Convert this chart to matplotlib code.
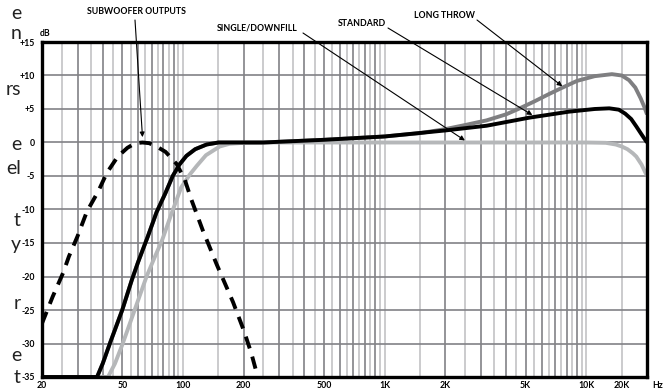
import numpy as np
import matplotlib
matplotlib.use("Agg")
import matplotlib.pyplot as plt
from matplotlib.transforms import blended_transform_factory
from matplotlib.ticker import NullLocator

# Frequency response curves (Hz, dB)
sub_freq = [20, 22.6, 25.5, 27.2, 30, 33.4, 38, 42, 47.5, 53, 58, 63, 68, 74, 82, 93, 102, 110,
            125, 147, 177, 200, 218, 235]
sub_db = [-27, -23, -19.4, -17, -14, -10.3, -7.3, -4.5, -2.1, -0.8, -0.1, 0, -0.1, -0.6, -1.4,
          -3.2, -5.5, -8.5, -13, -18.2, -23.8, -28, -31.4, -35]

std_freq = [20, 37.5, 40, 43.4, 50, 55.8, 60, 67, 74, 82, 89, 96, 104, 115, 131, 150, 180, 250,
            500, 1000, 2000, 3200, 5200, 8200, 11000, 13000, 14500, 15600, 16700, 17700, 18800, 20000]
std_db = [-35, -35, -33, -30, -25, -20.5, -17.8, -14, -10.4, -7.5, -5, -3.3, -2, -1, -0.3, 0, 0, 0,
          0.4, 0.9, 1.8, 2.5, 3.7, 4.6, 5.0, 5.1, 4.9, 4.3, 3.5, 2.4, 1.2, 0]

long_freq = [20, 37.5, 40, 43.4, 50, 55.8, 60, 67, 74, 82, 89, 96, 104, 115, 131, 150, 180, 250,
             500, 1000, 1500, 2000, 2500, 3200, 4000, 4600, 5500, 6500, 7500, 9000, 11000, 13400,
             15000, 16300, 17500, 18600, 19400, 20000]
long_db = [-35, -35, -33, -30, -25, -20.5, -17.8, -14, -10.4, -7.5, -5, -3.3, -2, -1, -0.3, 0, 0, 0,
           0.4, 0.9, 1.4, 2.0, 2.6, 3.3, 4.2, 5.0, 6.1, 7.2, 8.1, 9.2, 9.9, 10.2,
           10.0, 9.3, 8.2, 6.6, 5.3, 4.2]

single_freq = [20, 42.5, 46, 50, 57.6, 66, 72, 79, 88, 98, 108, 117, 130, 152, 170, 200, 240,
               1000, 10000, 12500, 14000, 15000, 16000, 17000, 17700, 18800, 20000]
single_db = [-35, -35, -33, -30.2, -25, -20, -17.3, -14.5, -10.5, -6.7, -4.8, -3.5, -1.9, -0.6,
             -0.2, -0.05, 0, 0, 0, -0.05, -0.3, -0.6, -1.0, -1.6, -2.1, -3.3, -5]

y_ticks = [15, 10, 5, 0, -5, -10, -15, -20, -25, -30, -35]
y_labels = ["+15", "+10", "+5", "0", "-5", "-10", "-15", "-20", "-25", "-30", "-35"]
x_ticks = [20, 50, 100, 200, 500, 1000, 2000, 5000, 10000, 20000]
x_labels = ["20", "50", "100", "200", "500", "1K", "2K", "5K", "10K", "20K"]

W, H = 672, 392
fig = plt.figure(figsize=(W / 100, H / 100), dpi=100)
ax = fig.add_axes([42 / W, 15 / H, (647 - 42) / W, (377 - 42) / H])

def px(x, y):
    return x / W, 1 - y / H

font = "Lato"
dark = "#828286"
light = "#c2c2c5"

ax.set_xscale("log")
ax.set_xlim(20, 20000)
ax.set_ylim(-35, 15)
ax.xaxis.set_major_locator(NullLocator())
ax.xaxis.set_minor_locator(NullLocator())

# grid: every half step inside each decade, integers 2..9 darker
for dec in [10, 100, 1000, 10000]:
    for m in np.arange(1, 10, 0.5):
        f = dec * m
        if f <= 20 or f >= 20000 or (1 < m < 1.5):
            continue
        col = dark if (m == int(m) and m >= 2) else light
        ax.axvline(f, color=col, lw=1.2, zorder=1)
for v in y_ticks:
    ax.axhline(v, color=dark, lw=1.2, zorder=1)

ax.set_yticks(y_ticks)
ax.set_yticklabels(y_labels, fontsize=6.3, fontweight="bold", family=font)
ax.tick_params(axis="y", length=0, pad=5)

for s in ax.spines.values():
    s.set_linewidth(2.4)
    s.set_color("black")
    s.set_zorder(5)

ax.plot(long_freq, long_db, color="#7f7f81", lw=2.8, zorder=3, solid_capstyle="butt")
ax.plot(single_freq, single_db, color="#b5b7b9", lw=2.8, zorder=3, solid_capstyle="butt")
ax.plot(std_freq, std_db, color="black", lw=2.8, zorder=4, solid_capstyle="butt")
ax.plot(sub_freq, sub_db, color="black", lw=2.8, zorder=4, linestyle=(0, (3.2, 2.2)),
        dash_capstyle="butt")

# x labels
tr = blended_transform_factory(ax.transData, ax.transAxes)
for f, lab in zip(x_ticks, x_labels):
    xf = f if lab != "20K" else 15000
    ax.text(xf, -9 / 335, lab, transform=tr, ha="center", va="center", fontsize=6.3,
            fontweight="bold", family=font, clip_on=False)
fig.text(*px(658, 386), "Hz", ha="center", va="center", fontsize=6.3, fontweight="bold", family=font)
fig.text(*px(40, 33), "dB", ha="left", va="center", fontsize=6.3, fontweight="bold", family=font)

# callouts
callouts = [
    ("SUBWOOFER OUTPUTS", (136, 12), (135, 20), (63, 0.8)),
    ("SINGLE/DOWNFILL", (257, 28), (303, 33), (2500, 0.3)),
    ("STANDARD", (362, 23), (388, 28), (5400, 4.1)),
    ("LONG THROW", (444, 15), (477, 20), (7600, 8.4)),
]
for text, tpos, start, tip in callouts:
    fig.text(*px(*tpos), text, ha="center", va="center", fontsize=6.3, fontweight="bold",
             family=font)
    ax.annotate("", xy=tip, xycoords="data", xytext=(start[0], H - start[1]),
                textcoords="figure pixels",
                arrowprops=dict(arrowstyle="-|>", color="black", lw=0.8, mutation_scale=7,
                                shrinkA=0, shrinkB=0), zorder=6, annotation_clip=False)

# cut-off body text at the left margin
frags = [("e", 19), ("n", 39), ("rs", 95), ("e", 150), ("el", 174), ("t", 226), ("y", 250),
         ("r", 309), ("e", 361), ("t", 383)]
for t, yb in frags:
    fig.text(*px(21, yb), t, ha="right", va="baseline", fontsize=14, family=font, color="#222222")

fig.savefig("out.png", dpi=100)
